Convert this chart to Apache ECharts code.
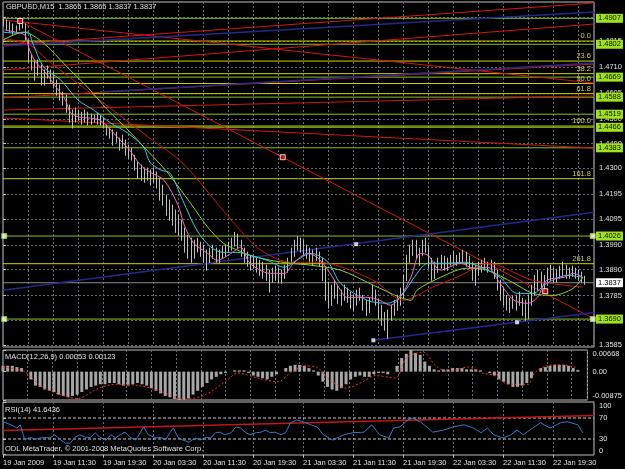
<!DOCTYPE html>
<html>
<head>
<meta charset="utf-8">
<script src="https://cdn.jsdelivr.net/npm/echarts@6/dist/echarts.min.js"></script>
<style>
  html, body { margin: 0; padding: 0; background: #000; }
  #chart { width: 625px; height: 469px; }
</style>
</head>
<body>
<div id="chart"></div>
<script>
// ---------- data (x = M15 bar number from the left edge) ----------
const timeLabels = ['19 Jan 2009', '19 Jan 11:30', '19 Jan 19:30', '20 Jan 03:30', '20 Jan 11:30', '20 Jan 19:30',
  '21 Jan 03:30', '21 Jan 11:30', '21 Jan 19:30', '22 Jan 03:30', '22 Jan 11:30', '22 Jan 19:30']
const barsPerLabel = 32
const xMax = 378.2

const priceTicks = [1.4910, 1.4815, 1.4710, 1.4605, 1.4500, 1.4400, 1.4300, 1.4195, 1.4095, 1.3990, 1.3890, 1.3785, 1.3685, 1.3585]

// price bars, every 2nd bar
const barStep = 2
const barHigh = [
  1.4908, 1.4900, 1.4892, 1.4884, 1.4876, 1.4892, 1.4900, 1.4884, 1.4819, 1.4758,
  1.4738, 1.4738, 1.4718, 1.4698, 1.4714, 1.4698, 1.4689, 1.4657, 1.4637, 1.4608,
  1.4596, 1.4556, 1.4536, 1.4544, 1.4536, 1.4527, 1.4536, 1.4527, 1.4519, 1.4515,
  1.4523, 1.4511, 1.4503, 1.4475, 1.4463, 1.4455, 1.4446, 1.4422, 1.4434, 1.4414,
  1.4394, 1.4382, 1.4353, 1.4325, 1.4313, 1.4301, 1.4301, 1.4293, 1.4301, 1.4285,
  1.4260, 1.4232, 1.4191, 1.4171, 1.4151, 1.4131, 1.4110, 1.4090, 1.4058, 1.4029,
  1.4017, 1.4009, 1.4017, 1.4001, 1.3989, 1.3969, 1.3977, 1.3989, 1.3977, 1.3969,
  1.3985, 1.3989, 1.4001, 1.4017, 1.4041, 1.4033, 1.4009, 1.3977, 1.3961, 1.3948,
  1.3944, 1.3936, 1.3928, 1.3920, 1.3908, 1.3888, 1.3896, 1.3904, 1.3896, 1.3888,
  1.3908, 1.3936, 1.3977, 1.4009, 1.4025, 1.4017, 1.4009, 1.3989, 1.3977, 1.3969,
  1.3977, 1.3961, 1.3936, 1.3896, 1.3839, 1.3827, 1.3847, 1.3827, 1.3807, 1.3827,
  1.3815, 1.3799, 1.3786, 1.3807, 1.3815, 1.3786, 1.3766, 1.3774, 1.3827, 1.3807,
  1.3766, 1.3746, 1.3717, 1.3726, 1.3746, 1.3766, 1.3786, 1.3815, 1.3867, 1.3948,
  1.3989, 1.4009, 1.4009, 1.3977, 1.4009, 1.4017, 1.3989, 1.3936, 1.3920, 1.3936,
  1.3948, 1.3944, 1.3936, 1.3948, 1.3961, 1.3948, 1.3957, 1.3969, 1.3961, 1.3944,
  1.3920, 1.3908, 1.3920, 1.3928, 1.3936, 1.3920, 1.3928, 1.3920, 1.3888, 1.3847,
  1.3815, 1.3786, 1.3774, 1.3782, 1.3786, 1.3799, 1.3774, 1.3766, 1.3786, 1.3827,
  1.3867, 1.3888, 1.3880, 1.3867, 1.3896, 1.3908, 1.3896, 1.3888, 1.3904, 1.3920,
  1.3908, 1.3896, 1.3904, 1.3896, 1.3888, 1.3880, 1.3863
]
const barLow = [
  1.4876, 1.4860, 1.4851, 1.4843, 1.4847, 1.4860, 1.4868, 1.4819, 1.4730, 1.4698,
  1.4657, 1.4677, 1.4637, 1.4637, 1.4665, 1.4649, 1.4625, 1.4596, 1.4576, 1.4556,
  1.4527, 1.4487, 1.4463, 1.4487, 1.4495, 1.4479, 1.4487, 1.4475, 1.4479, 1.4487,
  1.4479, 1.4475, 1.4463, 1.4434, 1.4422, 1.4394, 1.4406, 1.4374, 1.4382, 1.4353,
  1.4341, 1.4333, 1.4293, 1.4260, 1.4252, 1.4244, 1.4252, 1.4232, 1.4244, 1.4220,
  1.4171, 1.4151, 1.4110, 1.4090, 1.4070, 1.4041, 1.4029, 1.4009, 1.3961, 1.3936,
  1.3920, 1.3936, 1.3961, 1.3944, 1.3920, 1.3888, 1.3920, 1.3936, 1.3920, 1.3916,
  1.3936, 1.3944, 1.3961, 1.3969, 1.3985, 1.3977, 1.3944, 1.3920, 1.3904, 1.3888,
  1.3896, 1.3880, 1.3867, 1.3855, 1.3847, 1.3799, 1.3839, 1.3847, 1.3839, 1.3835,
  1.3855, 1.3880, 1.3920, 1.3944, 1.3969, 1.3961, 1.3948, 1.3936, 1.3920, 1.3908,
  1.3928, 1.3904, 1.3847, 1.3766, 1.3734, 1.3746, 1.3774, 1.3754, 1.3746, 1.3766,
  1.3758, 1.3734, 1.3726, 1.3746, 1.3766, 1.3726, 1.3705, 1.3717, 1.3766, 1.3746,
  1.3693, 1.3665, 1.3645, 1.3612, 1.3685, 1.3705, 1.3726, 1.3746, 1.3774, 1.3847,
  1.3920, 1.3948, 1.3936, 1.3908, 1.3948, 1.3961, 1.3896, 1.3847, 1.3855, 1.3880,
  1.3896, 1.3888, 1.3888, 1.3908, 1.3912, 1.3908, 1.3920, 1.3920, 1.3904, 1.3896,
  1.3847, 1.3827, 1.3867, 1.3880, 1.3888, 1.3880, 1.3888, 1.3855, 1.3807, 1.3766,
  1.3746, 1.3726, 1.3717, 1.3734, 1.3726, 1.3746, 1.3705, 1.3685, 1.3693, 1.3746,
  1.3786, 1.3807, 1.3815, 1.3807, 1.3827, 1.3847, 1.3839, 1.3839, 1.3855, 1.3863,
  1.3855, 1.3855, 1.3863, 1.3855, 1.3847, 1.3839, 1.3831
]

// moving averages: [bar, price]
const pinkMA = [[1, 1.4860], [8, 1.4851], [14, 1.4839], [17, 1.4779], [21, 1.4730], [27, 1.4689], [33, 1.4637], [40, 1.4576],
  [43, 1.4527], [49, 1.4507], [56, 1.4503], [62, 1.4495], [69, 1.4455], [75, 1.4414], [81, 1.4374], [88, 1.4313], [94, 1.4285],
  [103, 1.4252], [112, 1.4151], [116, 1.4070], [122, 1.3997], [131, 1.3956], [137, 1.3928], [146, 1.3956], [152, 1.3981],
  [158, 1.3916], [171, 1.3875], [180, 1.3875], [186, 1.3916], [195, 1.3956], [201, 1.3940], [208, 1.3888], [216, 1.3807],
  [220, 1.3778], [233, 1.3778], [241, 1.3766], [248, 1.3746], [254, 1.3778], [261, 1.3859], [267, 1.3956], [272, 1.3948],
  [280, 1.3888], [293, 1.3916], [301, 1.3896], [310, 1.3900], [318, 1.3835], [327, 1.3766], [336, 1.3754], [342, 1.3778],
  [348, 1.3847], [359, 1.3859], [365, 1.3875], [371, 1.3859]]
const cyanMA = [[0, 1.4851], [8, 1.4847], [16, 1.4851], [19, 1.4807], [26, 1.4710], [37, 1.4657], [48, 1.4576], [58, 1.4536],
  [69, 1.4483], [80, 1.4442], [90, 1.4386], [94, 1.4325], [101, 1.4293], [107, 1.4280], [115, 1.4171], [124, 1.4050],
  [133, 1.3981], [141, 1.3960], [150, 1.3960], [158, 1.3948], [169, 1.3928], [180, 1.3900], [188, 1.3928], [197, 1.3956],
  [208, 1.3920], [216, 1.3835], [233, 1.3766], [246, 1.3754], [254, 1.3778], [265, 1.3875], [272, 1.3916], [284, 1.3916],
  [295, 1.3920], [306, 1.3900], [318, 1.3859], [329, 1.3794], [339, 1.3794], [348, 1.3835], [361, 1.3867], [371, 1.3859]]
const greenMA = [[0, 1.4819], [13, 1.4851], [26, 1.4807], [41, 1.4710], [54, 1.4629], [67, 1.4536], [80, 1.4455], [92, 1.4374],
  [105, 1.4285], [120, 1.4159], [131, 1.4062], [141, 1.3997], [150, 1.3969], [158, 1.3948], [171, 1.3928], [184, 1.3916],
  [197, 1.3908], [216, 1.3888], [237, 1.3827], [254, 1.3778], [261, 1.3766], [265, 1.3807], [280, 1.3859], [297, 1.3896],
  [310, 1.3888], [327, 1.3835], [339, 1.3794], [352, 1.3786], [365, 1.3815], [371, 1.3859]]
const redMA = [[0, 1.4827], [17, 1.4799], [30, 1.4730], [62, 1.4576], [94, 1.4422], [115, 1.4321], [137, 1.4159], [150, 1.4062],
  [165, 1.3969], [184, 1.3920], [197, 1.3920], [208, 1.3916], [237, 1.3847], [256, 1.3766], [275, 1.3819], [293, 1.3867],
  [310, 1.3916], [339, 1.3847], [371, 1.3819]]

// trend lines: [[bar, price], [bar, price]]
const redTrendLines = [
  [[11, 1.4896], [378.2, 1.3691]],
  [[0, 1.4900], [378.2, 1.4645]],
  [[0, 1.4799], [378.2, 1.4969]],
  [[0, 1.4698], [378.2, 1.4884]],
  [[0, 1.4585], [378.2, 1.4722]],
  [[0, 1.4536], [378.2, 1.4593]],
  [[0, 1.4504], [378.2, 1.4382]]
]
const blueTrendLines = [
  [[0, 1.3807], [378.2, 1.4122]],
  [[237, 1.3604], [378.2, 1.3717]],
  [[0, 1.4795], [378.2, 1.4933]],
  [[62, 1.4609], [378.2, 1.4726]]
]
const redAnchors = [[11, 1.4896], [179, 1.4345], [347, 1.3803]]
const blueAnchors = [[226, 1.3993], [237, 1.3604], [329, 1.3677]]

// horizontal levels
const greenLevels = [1.4907, 1.4802, 1.4669, 1.4588, 1.4519, 1.4466, 1.4383, 1.4026, 1.3690]
const fibNames = ['0.0', '23.6', '38.2', '50.0', '61.8', '100.0', '161.8', '261.8']
const fibPrices = [1.4815, 1.4734, 1.4683, 1.4643, 1.4602, 1.4471, 1.4258, 1.3914]
const lastPrice = 1.3837
const anchoredLevels = [1.4026, 1.3690]

// MACD(12,26,9): histogram every 3rd bar, signal as [bar, value]
const macdStep = 3
const macdHist = [
  0.0018, 0.0018, 0.0018, 0.0014, 0.0011, 0, -0.0024, -0.0043, -0.0047, -0.0055,
  -0.0059, -0.0063, -0.0071, -0.0075, -0.0079, -0.0075, -0.0071, -0.0063, -0.0055, -0.0047,
  -0.0043, -0.0039, -0.0039, -0.0035, -0.0035, -0.0039, -0.0043, -0.0043, -0.0039, -0.0035,
  -0.0039, -0.0043, -0.0051, -0.0059, -0.0067, -0.0075, -0.0079, -0.0084, -0.00875, -0.0087,
  -0.0083, -0.0071, -0.0059, -0.0047, -0.0035, -0.0024, -0.0016, -0.0008, -0.0004, 0,
  0.0004, 0.0004, 0.0004, -0.0004, -0.0012, -0.0016, -0.0020, -0.0024, -0.0016, -0.0008,
  0, 0.0011, 0.0018, 0.0021, 0.0021, 0.0018, 0.0011, 0.0004, -0.0012, -0.0031,
  -0.0047, -0.0055, -0.0059, -0.0051, -0.0039, -0.0024, -0.0016, -0.0012, -0.0016, -0.0016,
  -0.0008, -0.0004, -0.0004, -0.0008, 0, 0.0018, 0.0042, 0.0055, 0.00668, 0.0058,
  0.0052, 0.0031, 0.0018, 0.0007, 0.0004, 0.0007, 0.0007, 0.0011, 0.0011, 0.0011,
  0.0007, 0.0007, 0.0007, 0.0004, 0, -0.0004, -0.0012, -0.0024, -0.0031, -0.0039,
  -0.0047, -0.0047, -0.0043, -0.0035, -0.0020, 0, 0.0011, 0.0014, 0.0018, 0.0021,
  0.0021, 0.0021, 0.0018, 0.0011, 0.00053
]
const macdSignal = [[0, 0.0014], [14, 0], [24, -0.0043], [37, -0.0071], [48, -0.0083], [62, -0.0051], [73, -0.0039],
  [88, -0.0043], [101, -0.0059], [118, -0.0085], [131, -0.0071], [144, -0.0031], [152, -0.0004], [165, -0.0020],
  [178, -0.0031], [186, -0.0004], [195, 0.0018], [203, 0.0014], [211, -0.0024], [222, -0.0051], [233, -0.0031],
  [241, -0.0012], [254, -0.0020], [261, 0.0042], [272, 0.0060], [280, 0.0018], [288, 0], [301, 0.0014], [310, -0.0004],
  [318, -0.0012], [327, -0.0039], [340, -0.0039], [344, -0.0004], [352, 0.0018], [361, 0.0021], [372, 0.00123]]
const macdTicks = [0.00668, 0, -0.00875]

// RSI(14) as [bar, value]
const rsiLine = [[0, 63], [5, 57], [9, 51], [11, 57], [14, 28], [17, 33], [21, 30], [26, 33], [30, 32], [33, 38], [37, 28],
  [40, 22], [43, 22], [46, 33], [49, 38], [53, 33], [56, 33], [59, 42], [62, 33], [66, 28], [69, 38], [72, 32], [75, 38],
  [78, 43], [82, 32], [85, 28], [88, 43], [90, 53], [93, 38], [98, 32], [101, 33], [104, 28], [107, 43], [109, 51],
  [112, 33], [115, 28], [119, 24], [123, 32], [126, 28], [130, 33], [133, 32], [136, 42], [139, 43], [142, 38], [146, 42],
  [149, 53], [152, 51], [155, 43], [158, 38], [162, 42], [165, 43], [168, 47], [171, 42], [174, 43], [178, 38], [181, 43],
  [184, 61], [188, 66], [192, 63], [197, 57], [201, 53], [205, 38], [211, 28], [218, 38], [224, 42], [231, 43], [236, 57],
  [241, 38], [247, 32], [250, 51], [254, 53], [259, 66], [262, 70], [267, 63], [272, 51], [275, 43], [282, 47], [288, 53],
  [295, 57], [301, 51], [306, 42], [310, 51], [314, 38], [320, 32], [325, 38], [329, 47], [333, 38], [339, 51], [344, 61],
  [350, 51], [357, 61], [361, 63], [368, 57], [371, 41.6]]
const rsiTrend = [[0, 46], [378.2, 75]]
const rsiLevels = [70, 30]
const rsiTicks = [100, 70, 30, 0]

// ---------- chart ----------
const FONT = 'Liberation Sans, Arial, sans-serif'
const FS = 7.5
const LABEL_COLOR = '#e0e0e0'
const GRID_COLOR = '#5f6b78'
const chart = echarts.init(document.getElementById('chart'))

const priceBars = barHigh.map((h, i) => [i * barStep, barLow[i], h])
const histData = macdHist.map((v, i) => [i * macdStep, v])
const labelTicks = timeLabels.map((t, i) => i * barsPerLabel)

// edge labels of the indicator windows sit inside the window, like in MT4
const edgeRich = {
  t: { color: LABEL_COLOR, fontFamily: FONT, fontSize: FS, padding: [8, 0, 0, 0] },
  b: { color: LABEL_COLOR, fontFamily: FONT, fontSize: FS, padding: [0, 0, 8, 0] }
}

const renderBar = (params, api) => {
  const top = api.coord([api.value(0), api.value(2)])
  const bot = api.coord([api.value(0), api.value(1)])
  const x = Math.round(top[0]) + 0.5
  return {
    type: 'line',
    shape: { x1: x, y1: top[1] - 0.5, x2: x, y2: bot[1] + 0.5 },
    style: { stroke: '#bdbdbd', lineWidth: 1 }
  }
}

const xAxisBase = (gridIndex) => ({
  type: 'value',
  gridIndex,
  min: 0,
  max: xMax,
  interval: 16,
  axisLine: { show: false },
  axisTick: { show: false },
  axisLabel: { show: false },
  splitLine: { show: true, lineStyle: { color: GRID_COLOR, type: [2, 2], width: 1 } }
})

const levelLine = (price, color, extra) => Object.assign({
  type: 'line',
  xAxisIndex: 0,
  yAxisIndex: 0,
  data: [[0, price], [xMax, price]],
  symbol: 'none',
  silent: true,
  animation: false,
  lineStyle: { color, width: 1 }
}, extra)

const series = []

// horizontal objects first
greenLevels.forEach(p => {
  series.push(levelLine(p, '#84c12a', {
    z: 3,
    endLabel: {
      show: true,
      formatter: () => p.toFixed(4),
      backgroundColor: '#9ee21e',
      color: '#101010',
      fontFamily: FONT,
      fontSize: FS,
      padding: [1, 2, 0, 2],
      distance: 2
    }
  }))
})
fibPrices.forEach((p, i) => {
  series.push(levelLine(p, '#d2d200', {
    z: 3,
    endLabel: {
      show: true,
      formatter: () => fibNames[i],
      color: '#cccc55',
      fontFamily: FONT,
      fontSize: FS,
      align: 'right',
      distance: 0,
      offset: [-3, -5]
    }
  }))
})
series.push(levelLine(lastPrice, '#8a8a8a', {
  z: 4,
  endLabel: {
    show: true,
    formatter: () => lastPrice.toFixed(4),
    backgroundColor: '#ffffff',
    color: '#000000',
    fontFamily: FONT,
    fontSize: FS,
    padding: [1, 2, 0, 2],
    distance: 2
  }
}))

redTrendLines.forEach(seg => series.push({
  type: 'line', xAxisIndex: 0, yAxisIndex: 0, data: seg, symbol: 'none', silent: true, z: 4,
  lineStyle: { color: '#d41414', width: 1 }
}))
blueTrendLines.forEach(seg => series.push({
  type: 'line', xAxisIndex: 0, yAxisIndex: 0, data: seg, symbol: 'none', silent: true, z: 4,
  lineStyle: { color: '#23288f', width: 1.5 }
}))

// price bars
series.push({
  type: 'custom',
  xAxisIndex: 0,
  yAxisIndex: 0,
  data: priceBars,
  encode: { x: 0, y: [1, 2] },
  renderItem: renderBar,
  z: 5,
  silent: true
})

// moving averages
const maLine = (data, color) => ({
  type: 'line', xAxisIndex: 0, yAxisIndex: 0, data, symbol: 'none', smooth: 0.3, silent: true, z: 6,
  lineStyle: { color, width: 1 }
})
series.push(maLine(redMA, '#c31616'))
series.push(maLine(greenMA, '#8fd11f'))
series.push(maLine(cyanMA, '#35c6e6'))
series.push(maLine(pinkMA, '#ec6fbf'))

// anchor squares
series.push({
  type: 'scatter', xAxisIndex: 0, yAxisIndex: 0, data: redAnchors, symbol: 'rect', symbolSize: 5, z: 7, silent: true,
  itemStyle: { color: '#e01010', borderColor: '#ffffff', borderWidth: 1 }
})
series.push({
  type: 'scatter', xAxisIndex: 0, yAxisIndex: 0, data: blueAnchors, symbol: 'rect', symbolSize: 4, z: 7, silent: true,
  itemStyle: { color: '#ffffff' }
})
series.push({
  type: 'scatter', xAxisIndex: 0, yAxisIndex: 0, symbol: 'rect', symbolSize: 5, z: 7, silent: true,
  data: anchoredLevels.flatMap(p => [[0.8, p], [xMax - 0.8, p]]),
  itemStyle: { color: '#ffffff', borderColor: '#9ee21e', borderWidth: 1 }
})

// MACD
series.push({
  type: 'bar', xAxisIndex: 1, yAxisIndex: 1, data: histData, barWidth: 3, silent: true,
  itemStyle: { color: '#a6a6a6' }
})
series.push({
  type: 'line', xAxisIndex: 1, yAxisIndex: 1, data: macdSignal, symbol: 'none', smooth: 0.3, silent: true, z: 4,
  lineStyle: { color: '#ff2a2a', width: 1, type: [2, 2] }
})

// RSI
rsiLevels.forEach(v => series.push({
  type: 'line', xAxisIndex: 2, yAxisIndex: 2, data: [[0, v], [xMax, v]], symbol: 'none', silent: true,
  lineStyle: { color: '#c8c8c8', width: 1, type: [3, 2] }
}))
series.push({
  type: 'line', xAxisIndex: 2, yAxisIndex: 2, data: rsiTrend, symbol: 'none', silent: true, z: 3,
  lineStyle: { color: '#c81414', width: 1.5 }
})
series.push({
  type: 'line', xAxisIndex: 2, yAxisIndex: 2, data: rsiLine, symbol: 'none', silent: true, z: 4,
  lineStyle: { color: '#3b78c8', width: 1 }
})

const textStyle = { fill: LABEL_COLOR, font: FS + 'px ' + FONT }

const option = {
  backgroundColor: '#000000',
  animation: false,
  textStyle: { fontFamily: FONT },
  grid: [
    { left: 3, top: 2, width: 591, height: 345, show: true, borderColor: '#c0c0c0', borderWidth: 1, backgroundColor: '#000' },
    { left: 3, top: 350, width: 591, height: 50, show: true, borderColor: '#c0c0c0', borderWidth: 1, backgroundColor: '#000' },
    { left: 3, top: 402, width: 591, height: 53, show: true, borderColor: '#c0c0c0', borderWidth: 1, backgroundColor: '#000' }
  ],
  xAxis: [
    xAxisBase(0),
    xAxisBase(1),
    Object.assign(xAxisBase(2), {
      axisTick: { show: true, length: 3, customValues: labelTicks, lineStyle: { color: '#c0c0c0' } },
      axisLabel: {
        show: true,
        customValues: labelTicks,
        formatter: v => (v % barsPerLabel === 0 ? timeLabels[v / barsPerLabel] : ''),
        color: LABEL_COLOR,
        fontFamily: FONT,
        fontSize: FS,
        align: 'left',
        margin: 4
      }
    })
  ],
  yAxis: [
    {
      type: 'value', gridIndex: 0, position: 'right', min: 1.3577, max: 1.4973, scale: true,
      axisLine: { show: false },
      axisTick: { show: true, length: 3, customValues: priceTicks, lineStyle: { color: '#c0c0c0' } },
      axisLabel: { customValues: priceTicks, formatter: v => v.toFixed(4), color: LABEL_COLOR, fontFamily: FONT, fontSize: FS, margin: 5 },
      splitLine: { show: true, lineStyle: { color: GRID_COLOR, type: [2, 2], width: 1 } }
    },
    {
      type: 'value', gridIndex: 1, position: 'right', min: -0.00875, max: 0.00668,
      axisLine: { show: false },
      axisTick: { show: true, length: 3, customValues: macdTicks, lineStyle: { color: '#c0c0c0' } },
      axisLabel: {
        customValues: macdTicks,
        showMinLabel: true,
        showMaxLabel: true,
        formatter: v => (v === 0 ? '0.00' : v > 0 ? '{t|' + v.toFixed(5) + '}' : '{b|' + v.toFixed(5) + '}'),
        rich: edgeRich,
        color: LABEL_COLOR, fontFamily: FONT, fontSize: FS, margin: 5
      },
      splitLine: { show: false }
    },
    {
      type: 'value', gridIndex: 2, position: 'right', min: -0.5, max: 100.5,
      axisLine: { show: false },
      axisTick: { show: true, length: 3, customValues: rsiTicks, lineStyle: { color: '#c0c0c0' } },
      axisLabel: {
        customValues: rsiTicks,
        showMinLabel: true,
        showMaxLabel: true,
        formatter: v => (v === 100 ? '{t|100}' : v === 0 ? '{b|0}' : String(v)),
        rich: edgeRich,
        color: LABEL_COLOR, fontFamily: FONT, fontSize: FS, margin: 5
      },
      splitLine: { show: false }
    }
  ],
  graphic: [
    { type: 'text', left: 6, top: 3, z: 100, style: Object.assign({ text: 'GBPUSD,M15  1.3865 1.3865 1.3837 1.3837' }, textStyle) },
    { type: 'text', left: 5, top: 353, z: 100, style: Object.assign({ text: 'MACD(12,26,9) 0.00053 0.00123' }, textStyle) },
    { type: 'text', left: 5, top: 406, z: 100, style: Object.assign({ text: 'RSI(14) 41.6436' }, textStyle) },
    { type: 'text', left: 5, top: 445, z: 100, style: Object.assign({ text: 'ODL MetaTrader, © 2001-2008 MetaQuotes Software Corp.' }, textStyle) }
  ],
  series
}

chart.setOption(option)
</script>
</body>
</html>
